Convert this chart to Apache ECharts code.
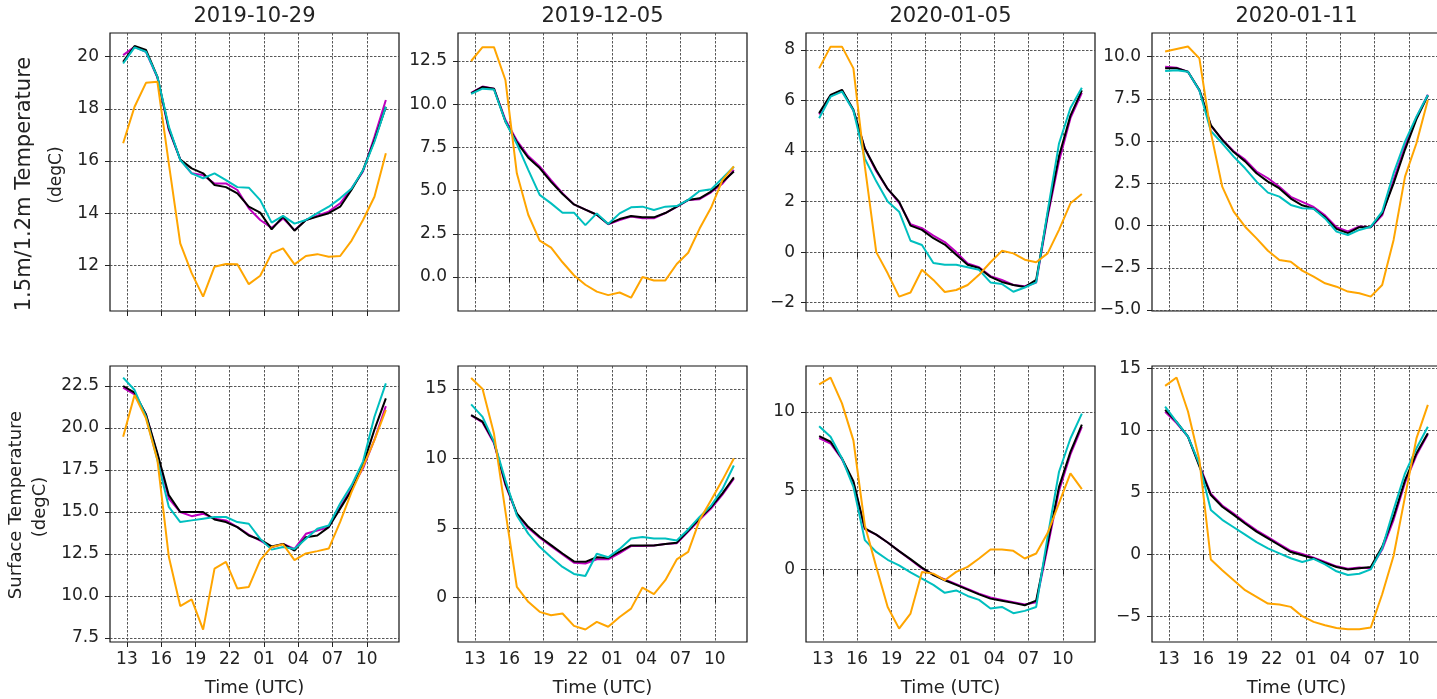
<!DOCTYPE html>
<html>
<head>
<meta charset="utf-8">
<title>Temperature comparison</title>
<script src="https://cdn.jsdelivr.net/npm/echarts@6/dist/echarts.min.js"></script>
<style>
  html, body { margin: 0; padding: 0; background: #fff; }
  #chart { width: 1437px; height: 699px; }
</style>
</head>
<body>
<div id="chart"></div>
<script>
// time of each sample (hours UTC, counted on past midnight)
const hours = [12.67, 13.67, 14.67, 15.67, 16.67, 17.67, 18.67, 19.67, 20.67, 21.67, 22.67, 23.67,
               24.67, 25.67, 26.67, 27.67, 28.67, 29.67, 30.67, 31.67, 32.67, 33.67, 34.67, 35.67];
const xTickValues = [13, 16, 19, 22, 25, 28, 31, 34];
const xTickLabels = ['13', '16', '19', '22', '01', '04', '07', '10'];
const dates = ['2019-10-29', '2019-12-05', '2020-01-05', '2020-01-11'];

// 1.5m/1.2m temperature
const t2m_1029_m = [20.06, 20.38, 20.19, 19.2, 17.19, 16.06, 15.53, 15.46, 15.14, 15.14, 14.89, 14.19, 13.74, 13.44, 13.8, 13.35, 13.74, 13.9, 14.06, 14.38, 14.95, 15.6, 16.93, 18.34];
const t2m_1029_k = [19.8, 20.41, 20.26, 19.23, 17.25, 16.06, 15.72, 15.53, 15.08, 15.0, 14.76, 14.25, 14.02, 13.38, 13.87, 13.33, 13.74, 13.87, 14.0, 14.25, 14.9, 15.65, 16.8, 18.08];
const t2m_1029_c = [19.74, 20.36, 20.19, 19.23, 17.32, 16.04, 15.53, 15.34, 15.53, 15.27, 15.0, 14.98, 14.5, 13.64, 13.9, 13.6, 13.74, 14.0, 14.25, 14.57, 14.95, 15.65, 16.74, 18.08];
const t2m_1029_o = [16.68, 18.08, 19.0, 19.04, 15.9, 12.84, 11.7, 10.8, 11.95, 12.05, 12.04, 11.28, 11.6, 12.46, 12.65, 12.04, 12.36, 12.43, 12.33, 12.36, 12.95, 13.74, 14.63, 16.3];

const t2m_1205_m = [10.65, 11.02, 10.9, 9.1, 7.9, 7.0, 6.4, 5.6, 4.85, 4.2, 3.9, 3.6, 3.05, 3.3, 3.5, 3.4, 3.4, 3.7, 4.05, 4.45, 4.5, 4.9, 5.4, 6.2];
const t2m_1205_k = [10.63, 11.0, 10.9, 9.0, 7.8, 6.9, 6.3, 5.5, 4.8, 4.2, 3.9, 3.6, 3.07, 3.35, 3.53, 3.45, 3.45, 3.7, 4.07, 4.46, 4.55, 4.94, 5.5, 6.1];
const t2m_1205_c = [10.6, 10.9, 10.85, 9.0, 7.7, 6.2, 4.75, 4.26, 3.72, 3.72, 3.0, 3.68, 3.07, 3.68, 4.03, 4.07, 3.88, 4.07, 4.1, 4.46, 4.98, 5.07, 5.71, 6.38];
const t2m_1205_o = [12.5, 13.3, 13.3, 11.4, 6.0, 3.6, 2.1, 1.7, 0.85, 0.1, -0.45, -0.85, -1.05, -0.9, -1.2, 0.0, -0.2, -0.2, 0.75, 1.4, 2.8, 4.0, 5.6, 6.4];

const t2m_0105_m = [5.45, 6.2, 6.4, 5.6, 4.1, 3.2, 2.5, 1.95, 1.1, 0.95, 0.65, 0.4, 0.0, -0.45, -0.6, -0.95, -1.1, -1.3, -1.35, -1.2, 1.4, 3.6, 5.3, 6.3];
const t2m_0105_k = [5.5, 6.22, 6.42, 5.63, 4.1, 3.25, 2.5, 2.0, 1.05, 0.88, 0.55, 0.3, -0.1, -0.5, -0.63, -0.98, -1.18, -1.3, -1.38, -1.1, 1.5, 3.8, 5.4, 6.4];
const t2m_0105_c = [5.3, 6.15, 6.35, 5.6, 3.7, 2.8, 2.0, 1.6, 0.45, 0.28, -0.43, -0.5, -0.5, -0.6, -0.7, -1.2, -1.26, -1.57, -1.4, -1.2, 1.6, 4.3, 5.7, 6.5];
const t2m_0105_o = [7.27, 8.13, 8.13, 7.27, 3.4, 0.0, -0.84, -1.76, -1.6, -0.7, -1.1, -1.58, -1.5, -1.3, -0.9, -0.4, 0.05, -0.05, -0.3, -0.4, -0.05, 0.88, 1.93, 2.3];

const t2m_0111_m = [9.4, 9.35, 9.1, 8.0, 5.9, 5.1, 4.4, 3.9, 3.2, 2.8, 2.3, 1.7, 1.4, 1.1, 0.6, -0.1, -0.35, -0.05, -0.1, 0.6, 2.7, 4.7, 6.4, 7.75];
const t2m_0111_k = [9.31, 9.31, 9.11, 8.03, 5.95, 5.07, 4.35, 3.8, 3.1, 2.6, 2.2, 1.6, 1.2, 1.0, 0.5, -0.2, -0.45, -0.1, -0.1, 0.7, 2.5, 4.5, 6.3, 7.7];
const t2m_0111_c = [9.15, 9.2, 9.1, 8.0, 5.6, 4.87, 4.08, 3.39, 2.6, 1.95, 1.71, 1.22, 1.02, 1.0, 0.42, -0.36, -0.56, -0.26, -0.07, 0.82, 3.1, 4.97, 6.45, 7.73];
const t2m_0111_o = [10.3, 10.45, 10.6, 9.9, 5.5, 2.3, 0.82, -0.07, -0.76, -1.49, -2.04, -2.14, -2.67, -3.03, -3.42, -3.62, -3.91, -4.01, -4.21, -3.52, -0.85, 2.9, 4.87, 7.43];

// surface temperature
const tsf_1029_m = [22.4, 22.0, 20.8, 18.4, 15.8, 15.0, 14.75, 14.9, 14.6, 14.5, 14.1, 13.65, 13.3, 12.9, 13.1, 12.8, 13.7, 13.9, 14.1, 15.3, 16.4, 17.6, 19.3, 21.3];
const tsf_1029_k = [22.5, 22.1, 20.8, 18.5, 16.0, 15.0, 15.0, 15.0, 14.55, 14.4, 14.1, 13.6, 13.35, 12.95, 13.1, 12.7, 13.5, 13.6, 14.1, 15.2, 16.3, 17.8, 19.9, 21.76];
const tsf_1029_c = [23.0, 22.26, 20.67, 18.1, 15.3, 14.4, 14.5, 14.6, 14.7, 14.7, 14.4, 14.3, 13.4, 12.76, 12.92, 12.8, 13.4, 14.0, 14.2, 15.5, 16.6, 18.0, 20.67, 22.66];
const tsf_1029_o = [19.48, 21.96, 20.57, 18.1, 12.33, 9.4, 9.8, 8.0, 11.63, 12.03, 10.44, 10.54, 12.13, 12.92, 13.08, 12.13, 12.53, 12.67, 12.82, 14.41, 16.2, 17.7, 19.28, 21.07];

const tsf_1205_m = [13.1, 12.6, 11.1, 8.1, 6.0, 5.0, 4.3, 3.7, 3.1, 2.5, 2.45, 2.75, 2.75, 3.2, 3.7, 3.7, 3.75, 3.85, 3.9, 4.75, 5.6, 6.4, 7.4, 8.55];
const tsf_1205_k = [13.13, 12.65, 11.2, 8.2, 6.05, 5.09, 4.37, 3.77, 3.17, 2.6, 2.57, 2.9, 2.85, 3.3, 3.75, 3.75, 3.75, 3.85, 3.95, 4.8, 5.7, 6.5, 7.5, 8.64];
const tsf_1205_c = [13.9, 13.0, 11.2, 8.45, 5.9, 4.6, 3.65, 2.9, 2.2, 1.7, 1.55, 3.15, 2.9, 3.5, 4.25, 4.35, 4.25, 4.25, 4.1, 4.9, 5.8, 6.6, 7.8, 9.5];
const tsf_1205_o = [15.8, 15.0, 11.8, 6.2, 0.77, -0.31, -1.03, -1.27, -1.15, -2.04, -2.3, -1.75, -2.1, -1.4, -0.8, 0.72, 0.24, 1.25, 2.74, 3.29, 5.57, 7.0, 8.45, 10.0];

const tsf_0105_m = [8.35, 8.0, 7.0, 5.5, 2.55, 2.2, 1.7, 1.15, 0.6, 0.05, -0.35, -0.65, -0.95, -1.25, -1.55, -1.8, -1.95, -2.1, -2.25, -2.1, 1.4, 5.0, 7.3, 9.05];
const tsf_0105_k = [8.47, 8.11, 7.05, 5.6, 2.6, 2.2, 1.7, 1.15, 0.64, 0.1, -0.38, -0.7, -1.0, -1.3, -1.6, -1.87, -2.0, -2.14, -2.29, -2.0, 1.63, 5.24, 7.47, 9.2];
const tsf_0105_c = [9.1, 8.43, 7.05, 5.24, 1.85, 1.1, 0.6, 0.25, -0.2, -0.6, -1.0, -1.5, -1.35, -1.7, -1.95, -2.5, -2.4, -2.8, -2.65, -2.4, 2.06, 6.2, 8.32, 9.9];
const tsf_0105_o = [11.76, 12.19, 10.55, 8.2, 2.8, 0.15, -2.4, -3.78, -2.82, -0.17, -0.28, -0.7, -0.17, 0.15, 0.68, 1.25, 1.25, 1.17, 0.68, 1.0, 2.3, 4.2, 6.1, 5.1];

const tsf_0111_m = [11.5, 10.6, 9.5, 7.2, 4.9, 3.95, 3.3, 2.6, 1.95, 1.4, 0.85, 0.3, 0.05, -0.25, -0.6, -0.95, -1.15, -1.05, -1.1, 0.4, 2.8, 5.8, 8.0, 9.7];
const tsf_0111_k = [11.66, 10.7, 9.5, 7.1, 4.8, 3.85, 3.2, 2.5, 1.85, 1.3, 0.75, 0.2, -0.05, -0.32, -0.67, -1.0, -1.2, -1.1, -1.0, 0.62, 3.05, 6.0, 8.16, 9.78];
const tsf_0111_c = [11.93, 10.7, 9.5, 7.3, 3.6, 2.8, 2.2, 1.6, 1.0, 0.5, 0.1, -0.3, -0.6, -0.35, -0.8, -1.35, -1.65, -1.55, -1.2, 0.5, 3.6, 6.55, 8.57, 10.3];
const tsf_0111_o = [13.6, 14.27, 11.53, 7.62, -0.4, -1.26, -2.07, -2.87, -3.41, -3.95, -4.03, -4.22, -4.97, -5.43, -5.7, -5.92, -6.02, -6.02, -5.89, -3.2, -0.1, 4.67, 9.37, 12.07];

// y tick labels per panel
const yTicks_t2m_1029 = ['12', '14', '16', '18', '20'];
const yTicks_t2m_1205 = ['0.0', '2.5', '5.0', '7.5', '10.0', '12.5'];
const yTicks_t2m_0105 = ['\u22122', '0', '2', '4', '6', '8'];
const yTicks_t2m_0111 = ['\u22125.0', '\u22122.5', '0.0', '2.5', '5.0', '7.5', '10.0'];
const yTicks_tsf_1029 = ['7.5', '10.0', '12.5', '15.0', '17.5', '20.0', '22.5'];
const yTicks_tsf_1205 = ['0', '5', '10', '15'];
const yTicks_tsf_0105 = ['0', '5', '10'];
const yTicks_tsf_0111 = ['\u22125', '0', '5', '10', '15'];

const lineColors = ['#bf00bf', '#000000', '#00bfbf', '#ffa500'];

// layout
const colLeft = [110, 458, 806, 1152];
const rowTop = [33, 366];
const rowHeight = [278, 276];
const plotWidth = 289;
const xMin = 11.52, xMax = 36.82;
const FONT = 'DejaVu Sans';
const TEXT = '#222';

const panels = [
    { row: 0, col: 0, lines: [t2m_1029_m, t2m_1029_k, t2m_1029_c, t2m_1029_o], yMin: 10.25, yMax: 20.91, ticks: yTicks_t2m_1029 },
    { row: 0, col: 1, lines: [t2m_1205_m, t2m_1205_k, t2m_1205_c, t2m_1205_o], yMin: -1.97, yMax: 14.12, ticks: yTicks_t2m_1205 },
    { row: 0, col: 2, lines: [t2m_0105_m, t2m_0105_k, t2m_0105_c, t2m_0105_o], yMin: -2.33, yMax: 8.67, ticks: yTicks_t2m_0105 },
    { row: 0, col: 3, lines: [t2m_0111_m, t2m_0111_k, t2m_0111_c, t2m_0111_o], yMin: -5.06, yMax: 11.4, ticks: yTicks_t2m_0111 },
    { row: 1, col: 0, lines: [tsf_1029_m, tsf_1029_k, tsf_1029_c, tsf_1029_o], yMin: 7.26, yMax: 23.69, ticks: yTicks_tsf_1029 },
    { row: 1, col: 1, lines: [tsf_1205_m, tsf_1205_k, tsf_1205_c, tsf_1205_o], yMin: -3.2, yMax: 16.66, ticks: yTicks_tsf_1205 },
    { row: 1, col: 2, lines: [tsf_0105_m, tsf_0105_k, tsf_0105_c, tsf_0105_o], yMin: -4.63, yMax: 12.93, ticks: yTicks_tsf_0105 },
    { row: 1, col: 3, lines: [tsf_0111_m, tsf_0111_k, tsf_0111_c, tsf_0111_o], yMin: -7.05, yMax: 15.2, ticks: yTicks_tsf_0111 }
];

const tickNum = s => parseFloat(s.replace('\u2212', '-'));

const grids = [], xAxes = [], yAxes = [], series = [];
const gridLine = { show: true, lineStyle: { color: '#444', type: [2.5, 1.5], width: 0.9 } };

panels.forEach((p, i) => {
    const yVals = p.ticks.map(tickNum);
    grids.push({
        left: colLeft[p.col], top: rowTop[p.row], width: plotWidth, height: rowHeight[p.row],
        show: true, borderColor: '#111', borderWidth: 1.2, backgroundColor: 'transparent',
        containLabel: false, outerBoundsMode: 'none'
    });
    xAxes.push({
        gridIndex: i, type: 'value', min: xMin, max: xMax,
        axisLine: { show: false },
        axisTick: { show: true, length: 5, customValues: xTickValues, lineStyle: { color: TEXT } },
        axisLabel: {
            show: p.row === 1, customValues: xTickValues, margin: 9,
            color: TEXT, fontSize: 17, fontFamily: FONT,
            formatter: v => xTickLabels[xTickValues.indexOf(v)]
        },
        splitLine: gridLine,
        name: p.row === 1 ? 'Time (UTC)' : '', nameLocation: 'middle', nameGap: 37,
        nameTextStyle: { color: TEXT, fontSize: 18, fontFamily: FONT }
    });
    yAxes.push({
        gridIndex: i, type: 'value', min: p.yMin, max: p.yMax,
        axisLine: { show: false },
        axisTick: { show: true, length: 5, customValues: yVals, lineStyle: { color: TEXT } },
        axisLabel: {
            customValues: yVals, margin: 11,
            color: TEXT, fontSize: 17, fontFamily: FONT,
            formatter: v => {
                let best = 0;
                yVals.forEach((t, k) => { if (Math.abs(t - v) < Math.abs(yVals[best] - v)) best = k; });
                return p.ticks[best];
            }
        },
        splitLine: gridLine
    });
    p.lines.forEach((vals, k) => {
        series.push({
            type: 'line', xAxisIndex: i, yAxisIndex: i,
            data: hours.map((h, j) => [h, vals[j]]),
            showSymbol: false, symbol: 'none', clip: true,
            lineStyle: { width: 2, color: lineColors[k] },
            itemStyle: { color: lineColors[k] },
            z: 2 + k
        });
    });
});

const graphics = dates.map((d, c) => ({
    type: 'text', x: colLeft[c] + plotWidth / 2, y: 17,
    style: { text: d, font: '21px "' + FONT + '"', fill: TEXT, textAlign: 'center', textVerticalAlign: 'middle' }
}));
graphics.push(
    { type: 'text', x: 25, y: 184, rotation: Math.PI / 2,
      style: { text: '1.5m/1.2m Temperature', font: '21px "' + FONT + '"', fill: TEXT, textAlign: 'center', textVerticalAlign: 'middle' } },
    { type: 'text', x: 57, y: 175, rotation: Math.PI / 2,
      style: { text: '(degC)', font: '17px "' + FONT + '"', fill: TEXT, textAlign: 'center', textVerticalAlign: 'middle' } },
    { type: 'text', x: 16, y: 505, rotation: Math.PI / 2,
      style: { text: 'Surface Temperature', font: '18px "' + FONT + '"', fill: TEXT, textAlign: 'center', textVerticalAlign: 'middle' } },
    { type: 'text', x: 40, y: 507, rotation: Math.PI / 2,
      style: { text: '(degC)', font: '18px "' + FONT + '"', fill: TEXT, textAlign: 'center', textVerticalAlign: 'middle' } }
);

const chart = echarts.init(document.getElementById('chart'), null, { renderer: 'canvas' });
chart.setOption({
    animation: false,
    backgroundColor: '#fff',
    grid: grids,
    xAxis: xAxes,
    yAxis: yAxes,
    series: series,
    graphic: graphics
});
</script>
</body>
</html>
